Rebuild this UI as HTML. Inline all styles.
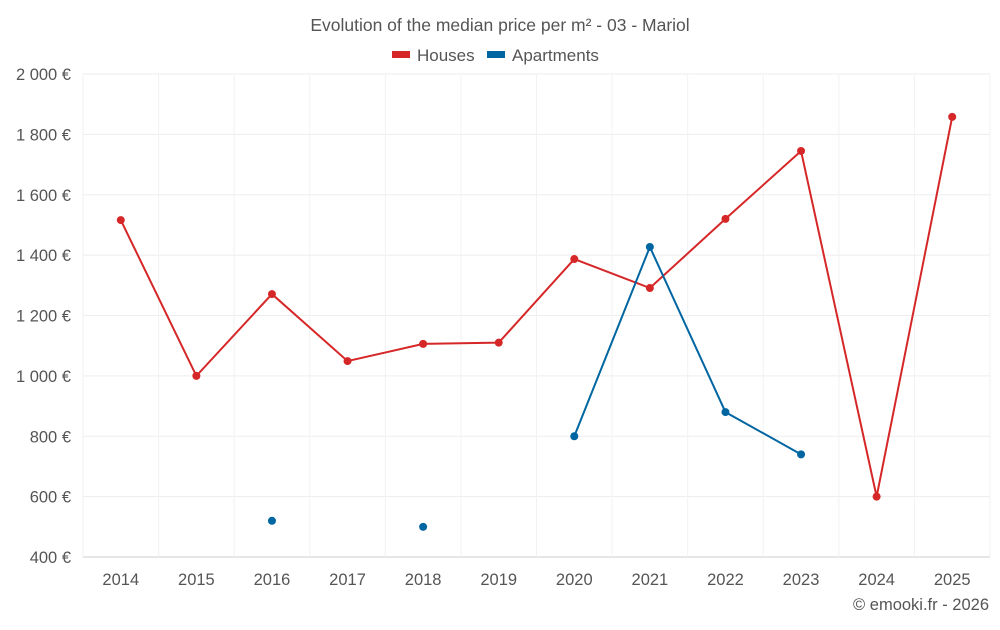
<!DOCTYPE html>
<html><head><meta charset="utf-8"><style>
body{margin:0;background:#fff;font-family:"Liberation Sans",sans-serif;}
svg text{font-family:"Liberation Sans",sans-serif;fill:#555;}
</style></head><body>
<svg id="chart" width="1000" height="625">
<text x="500" y="31" text-anchor="middle" font-size="17.5">Evolution of the median price per m² - 03 - Mariol</text>
<g><rect x="392" y="51" width="18" height="7" fill="#d62728"/><text x="417" y="61" font-size="17">Houses</text></g>
<g><rect x="487" y="51" width="18" height="7" fill="#0066a1"/><text x="512" y="61" font-size="17">Apartments</text></g>
<g id="grid"></g><g id="axes"></g><g id="series"></g>
<text x="989" y="610" text-anchor="end" font-size="16.5">© emooki.fr - 2026</text>
</svg>
<script>
const years=[2014,2015,2016,2017,2018,2019,2020,2021,2022,2023,2024,2025];
const houses=[1516,1000,1271,1049,1106,1110,1387,1291,1520,1745,600,1858];
const apartments=[null,null,520,null,500,null,800,1427,880,740,null,null];
const yTicks=[400,600,800,1000,1200,1400,1600,1800,2000];
const tickLabels=["400 €","600 €","800 €","1 000 €","1 200 €","1 400 €","1 600 €","1 800 €","2 000 €"];
const NS="http://www.w3.org/2000/svg";
const L=83,R=990,T=74,B=557,step=(R-L)/years.length;
const xs=i=>L+step*(i+0.5);
const ys=v=>B-(v-400)/1600*(B-T);
function mk(tag,attrs,parent){const e=document.createElementNS(NS,tag);for(const k in attrs)e.setAttribute(k,attrs[k]);document.getElementById(parent).appendChild(e);return e;}
yTicks.forEach((v,i)=>{
 const g=mk('line',{x1:L,x2:R,y1:ys(v),y2:ys(v),stroke:i==0?'#ccc':'#ededed'},'grid');
 
 
 const t=mk('text',{x:71,y:ys(v)+6,'text-anchor':'end','font-size':16.5},'axes');t.textContent=tickLabels[i];
 
 
});
for(let i=0;i<=years.length;i++){
 const g=mk('line',{x1:L+step*i,x2:L+step*i,y1:T,y2:B,stroke:'#f2f2f2'},'grid');
 
 
}
years.forEach((y,i)=>{
 const t=mk('text',{x:xs(i),y:585,'text-anchor':'middle','font-size':16.5},'axes');t.textContent=y;
 
 
});
function draw(data,color,name){
 let segs=[],cur=[];
 data.forEach((v,i)=>{if(v==null){if(cur.length)segs.push(cur);cur=[];}else cur.push([xs(i),ys(v)]);});
 if(cur.length)segs.push(cur);
 segs.forEach(s=>{if(s.length>1){const p=mk('polyline',{points:s.map(p=>p.join(',')).join(' '),fill:'none',stroke:color,'stroke-width':2},'series');
 
 }});
 data.forEach((v,i)=>{if(v==null)return;const c=mk('circle',{cx:xs(i),cy:ys(v),r:4,fill:color},'series');
 
 });
}
draw(houses,'#d62728','houses');
draw(apartments,'#0066a1','apartments');
</script>
</body></html>
